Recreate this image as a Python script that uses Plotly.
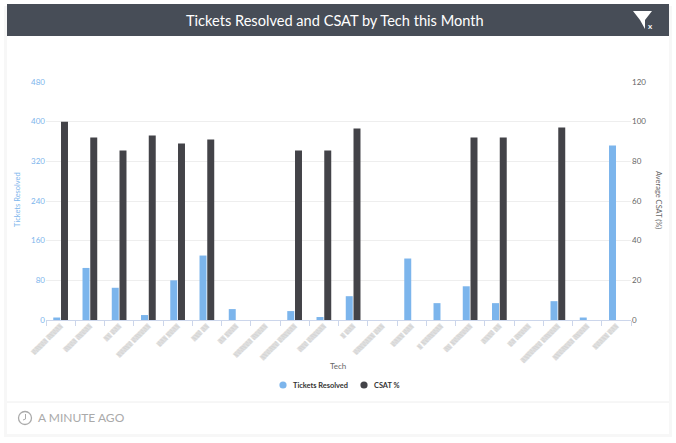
import plotly.graph_objects as go

techs = ["▒▒▒▒▒ ▒▒▒▒▒", "▒▒▒▒ ▒▒▒▒▒", "▒▒ ▒▒▒", "▒▒▒▒▒ ▒▒▒▒▒▒", "▒▒▒ ▒▒▒▒", "▒▒▒ ▒▒", "▒▒ ▒▒▒▒", "▒▒▒▒▒▒ ▒▒▒▒▒", "▒▒▒▒▒▒ ▒▒▒▒▒▒", "▒▒▒ ▒▒▒▒▒▒",
         "▒ ▒▒▒", "▒▒▒▒▒▒▒ ▒▒▒", "▒▒▒▒ ▒▒▒", "▒ ▒▒▒▒▒▒▒", "▒▒ ▒▒▒▒▒▒▒", "▒▒▒▒ ▒▒", "▒▒ ▒▒▒▒▒", "▒▒▒▒▒▒▒ ▒▒▒▒▒▒", "▒▒▒▒▒▒▒ ▒▒▒▒▒", "▒▒▒▒▒ ▒▒▒"]
tickets = [5, 105, 65, 10, 80, 130, 22, 0, 18, 6, 48, 0, 124, 34, 68, 34, 0, 38, 5, 352]
csat = [100, 92, 85.5, 93, 89, 91, 0, 0, 85.5, 85.5, 96.5, 0, 0, 0, 92, 92, 0, 97, 0, 0]
left_ticks = [0, 80, 160, 240, 320, 400, 480]
right_ticks = [0, 20, 40, 60, 80, 100, 120]
title = "Tickets Resolved and CSAT by Tech this Month"

W, H = 676, 443
L, T, PW, PH = 46, 82, 585, 238
FONT = "Lato"
BLUE, DARK = "#7cb5ec", "#434348"
def px(x): return (x - L) / PW
def py(y): return (T + PH - y) / PH
def rect(x0, y0, x1, y1, fill, layer="below"):
    return dict(type="rect", xref="paper", yref="paper", x0=px(x0), x1=px(x1), y0=py(y1), y1=py(y0),
                fillcolor=fill, line=dict(width=0), layer=layer)
def dot(cx, cy, r, fill):
    return dict(type="circle", xref="paper", yref="paper", x0=px(cx - r), x1=px(cx + r), y0=py(cy + r), y1=py(cy - r),
                fillcolor=fill, line=dict(width=0), layer="above")
def note(text, x, y, size, color, anchor="center", angle=0, weight="normal"):
    return dict(text=text, xref="paper", yref="paper", x=px(x), y=py(y), xanchor=anchor, yanchor="middle",
                showarrow=False, textangle=angle, font=dict(family=FONT, size=size, color=color, weight=weight))

fig = go.Figure()
fig.add_bar(x=techs, y=tickets, name="Tickets Resolved", marker=dict(color=BLUE, line_width=0),
            offsetgroup="a", yaxis="y")
fig.add_bar(x=techs, y=csat, name="CSAT %", marker=dict(color=DARK, line_width=0),
            offsetgroup="b", yaxis="y2")

funnel = "M {} {} L {} {} L {} {} L {} {} L {} {} Z".format(
    px(633), py(11), px(652), py(11), px(645), py(20), px(645), py(29), px(640), py(20))

fig.update_layout(
    width=W, height=H, autosize=False,
    paper_bgcolor="#ffffff", plot_bgcolor="rgba(0,0,0,0)",
    margin=dict(l=L, r=W - L - PW, t=T, b=H - T - PH, autoexpand=False),
    barmode="group", bargap=0.47, bargroupgap=0.1,
    showlegend=False,
    font=dict(family=FONT),
    xaxis=dict(type="category", tickangle=-45, tickson="boundaries", ticks="outside", ticklen=5,
               tickcolor="#ccd6eb", linecolor="#ccd6eb", showline=True, showgrid=False, automargin=False,
               tickfont=dict(family="DejaVu Sans", size=5, color="#c2c2c2")),
    yaxis=dict(range=[0, 480], tickvals=left_ticks, gridcolor="#eeeeee", zeroline=False, showline=False,
               tickfont=dict(size=8, color=BLUE), ticklen=0, ticks="", automargin=False),
    yaxis2=dict(range=[0, 120], tickvals=right_ticks, overlaying="y", side="right", showgrid=False, zeroline=False,
                tickfont=dict(size=8, color="#666666"), ticklen=0, ticks="", automargin=False),
    shapes=[
        rect(4, 6, 672, 437, "#f7f7f7"),
        rect(7, 6, 669, 434, "#ffffff"),
        rect(7, 4, 669, 36, "#474d57"),
        dict(type="line", xref="paper", yref="paper", x0=px(7), x1=px(669), y0=py(402), y1=py(402),
             line=dict(color="#eeeeee", width=1), layer="below"),
        dict(type="path", xref="paper", yref="paper", path=funnel, fillcolor="#ffffff", line=dict(width=0), layer="above"),
        dict(type="circle", xref="paper", yref="paper", x0=px(18.5), x1=px(31.5), y0=py(424.5), y1=py(411.5),
             line=dict(color="#aaaaaa", width=1.3), fillcolor="rgba(0,0,0,0)", layer="above"),
        dict(type="path", xref="paper", yref="paper", layer="above", fillcolor="rgba(0,0,0,0)",
             line=dict(color="#aaaaaa", width=1),
             path="M {} {} L {} {} L {} {}".format(px(25.5), py(414), px(25.5), py(419), px(23), py(420))),
        dot(283, 385, 3.6, BLUE),
        dot(364, 385, 3.6, DARK),
    ],
    annotations=[
        note(title, 335, 20, 14.6, "#ffffff"),
        note("x", 650, 26, 8, "#ffffff", weight="bold"),
        note("A MINUTE AGO", 36, 418, 12, "#aaaaaa", "left"),
        note("Tech", 338, 366, 8, "#666666"),
        note("Tickets Resolved", 17, 200, 7.5, BLUE, angle=-90),
        note("Average CSAT (%)", 659, 200, 7.5, "#666666", angle=90),
        note("Tickets Resolved", 291, 385.5, 7.4, "#333333", "left", weight="bold"),
        note("CSAT %", 372, 385.5, 7.4, "#333333", "left", weight="bold"),
    ],
)
fig.write_html("out.html", config=dict(displayModeBar=False),
               post_script="document.body.style.margin='0';document.body.style.overflow='hidden';")
